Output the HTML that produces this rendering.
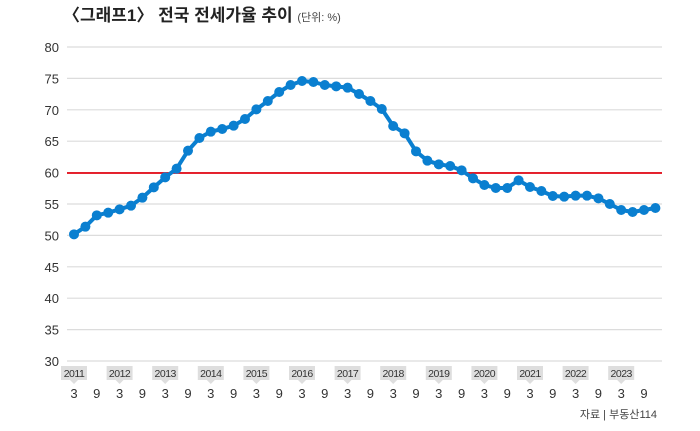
<!DOCTYPE html>
<html><head><meta charset="utf-8"><style>
body{margin:0;background:#fff;width:700px;height:426px;overflow:hidden}
text{font-family:"Liberation Sans","Noto Sans CJK KR",sans-serif}
</style></head><body>
<svg width="700" height="426" xmlns="http://www.w3.org/2000/svg">
<text x="63" y="21" font-size="17" font-weight="bold" fill="#222" font-family="'Liberation Sans','Noto Sans CJK KR',sans-serif">〈그래프1〉 전국 전세가율 추이 <tspan font-size="11" font-weight="normal" fill="#444">(단위: %)</tspan></text>
<g id="grid" stroke="#dcdcdc" stroke-width="1.2"></g>
<g id="ylab" font-size="13" fill="#333" text-anchor="end"></g>
<line x1="67" y1="173" x2="662" y2="173" stroke="#e30613" stroke-width="1.8"/>
<polyline id="ln" fill="none" stroke="#0a7fd0" stroke-width="4" stroke-linejoin="round"/>
<g id="pts" fill="#0a7fd0"></g>
<g id="xlab" font-size="13" fill="#333" text-anchor="middle"></g>
<text x="657" y="418" font-size="11" fill="#444" text-anchor="end">자료 | 부동산114</text>
</svg>
<script>
var ns="http://www.w3.org/2000/svg";
function el(t,a,p,txt){var e=document.createElementNS(ns,t);for(var k in a)e.setAttribute(k,a[k]);if(txt)e.textContent=txt;document.getElementById(p).appendChild(e);return e;}
for(var v=30;v<=80;v+=5){var y=47+(80-v)*6.28;el('line',{x1:67,x2:662,y1:y,y2:y},'grid');el('text',{x:59,y:y+5},'ylab',v);}
var ys=[493,470,436,428,418,407,383,352,322,296,242,204,185,177,167,147,118,93,66,45,33,36,45,49,53,72];
var ys2=[93,117,168,190,244,272,283,288,301,325,345,354,354,331,351,363,378,380,377,377,385,402,420,426,420,414];
var pts=[];
ys.forEach(function(z){pts.push(70+z/3)});ys2.forEach(function(z){pts.push(70+z/3)});
var s="";
pts.forEach(function(y,i){var x=74+11.4*i;s+=x+","+y+" ";el('circle',{cx:x,cy:y,r:5},'pts');});
document.getElementById('ln').setAttribute('points',s);
for(var i=0;i<13;i++){var x=74+45.6*i;
 el('rect',{x:x-13,y:366,width:26,height:14,fill:'#dedede'},'xlab');
 el('polygon',{points:(x-4)+",380 "+(x+4)+",380 "+x+",384",fill:'#dedede'},'xlab');
 var t=el('text',{x:x,y:377,'font-size':10.5,fill:'#333','letter-spacing':'-0.5'},'xlab',2011+i);
 el('text',{x:x,y:398},'xlab','3');el('text',{x:x+22.8,y:398},'xlab','9');}
</script>
</body></html>
